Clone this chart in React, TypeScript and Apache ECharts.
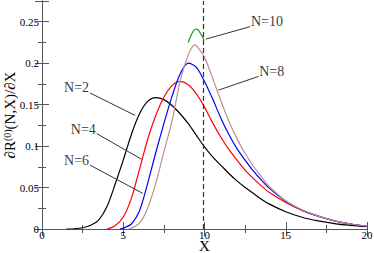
import React, { useEffect, useRef } from "react";
import * as echarts from "echarts";

// ---- data ----
const xN2 = [1.5, 2, 2.5, 3, 3.5, 4, 4.5, 5, 5.5, 6, 6.5, 7, 7.5, 8, 8.5, 9, 9.5, 10, 10.5, 11, 11.5, 12, 12.5, 13, 13.5, 14, 15, 16, 17, 18, 19, 20];
const yN2 = [0, 0.0003, 0.0015, 0.0045, 0.011, 0.027, 0.054, 0.083, 0.114, 0.139, 0.154, 0.1585, 0.156, 0.149, 0.139, 0.127, 0.113, 0.099, 0.087, 0.077, 0.067, 0.058, 0.05, 0.043, 0.036, 0.03, 0.0208, 0.0142, 0.0097, 0.0065, 0.0043, 0.0027];

const xN4 = [4, 4.5, 5, 5.5, 6, 6.5, 7, 7.5, 8, 8.5, 9, 9.5, 10, 10.5, 11, 11.5, 12, 12.5, 13, 13.5, 14, 15, 16, 17, 18, 19, 20];
const yN4 = [0, 0.004, 0.0145, 0.037, 0.072, 0.108, 0.137, 0.159, 0.173, 0.178, 0.174, 0.163, 0.147, 0.128, 0.111, 0.096, 0.083, 0.071, 0.061, 0.052, 0.044, 0.032, 0.0225, 0.0155, 0.0098, 0.006, 0.0033];

const xN6 = [4.8, 5, 5.5, 6, 6.5, 7, 7.5, 8, 8.5, 9, 9.5, 10, 10.5, 11, 11.5, 12, 12.5, 13, 13.5, 14, 15, 16, 17, 18, 19, 20];
const yN6 = [0, 0.001, 0.006, 0.022, 0.055, 0.092, 0.127, 0.16, 0.187, 0.2, 0.195, 0.178, 0.157, 0.134, 0.114, 0.097, 0.083, 0.07, 0.059, 0.049, 0.0335, 0.0228, 0.0155, 0.0098, 0.006, 0.0033];

const xN8 = [5.3, 5.5, 6, 6.5, 7, 7.5, 8, 8.5, 9, 9.4, 9.5, 10, 10.5, 11, 11.5, 12, 12.5, 13, 13.5, 14, 15, 16, 17, 18, 19, 20];
const yN8 = [0, 0.001, 0.007, 0.025, 0.055, 0.093, 0.13, 0.178, 0.21, 0.222, 0.221, 0.207, 0.182, 0.155, 0.13, 0.109, 0.091, 0.076, 0.063, 0.051, 0.034, 0.023, 0.0155, 0.0098, 0.006, 0.0033];

const xN10 = [9.0, 9.2, 9.4, 9.55, 9.75, 9.97];
const yN10 = [0.225, 0.235, 0.2405, 0.241, 0.236, 0.228];

const dashedX = 9.9;

const xTicks = [0, 5, 10, 15, 20];
const yTicks = ["0", "0.05", "0.1", "0.15", "0.2", "0.25"];

const annotLabels = ["N=2", "N=4", "N=6", "N=8", "N=10"];
const annotTextX = [2.13, 2.54, 2.13, 14.14, 13.84];
const annotTextY = [0.171, 0.12, 0.083, 0.19, 0.25];
const arrowFromX = [2.96, 3.37, 2.96, 13.32, 12.8];
const arrowFromY = [0.164, 0.115, 0.077, 0.184, 0.244];
const arrowToX = [5.73, 6.14, 6.2, 10.86, 10.08];
const arrowToY = [0.137, 0.084, 0.043, 0.1675, 0.229];

const zip = (xs: number[], ys: number[]) => xs.map((x, i) => [x, ys[i]]);

const FONT = "'Liberation Serif', 'DejaVu Serif', serif";
const AXIS_COLOR = "#555";

export default function App() {
  const ref = useRef<HTMLDivElement>(null);
  useEffect(() => {
    if (!ref.current) return;
    const chart = echarts.init(ref.current, null, { renderer: "svg" });

    const baseX = {
      type: "value" as const,
      min: xTicks[0],
      max: xTicks[xTicks.length - 1],
      interval: 5,
      splitLine: { show: false },
      axisLine: { show: true, lineStyle: { color: AXIS_COLOR, width: 1 } },
      axisTick: { show: true, inside: true, length: 7, lineStyle: { color: AXIS_COLOR } },
      minorTick: { show: true, splitNumber: 2, length: 4, lineStyle: { color: AXIS_COLOR } },
    };
    const baseY = {
      type: "value" as const,
      min: 0,
      max: 0.275,
      interval: 0.05,
      splitLine: { show: false },
      axisLine: { show: true, lineStyle: { color: AXIS_COLOR, width: 1 } },
      axisTick: { show: true, inside: true, length: 7, lineStyle: { color: AXIS_COLOR } },
      minorTick: { show: true, splitNumber: 2, length: 4, lineStyle: { color: AXIS_COLOR } },
    };

    const curve = (name: string, data: number[][], color: string) => ({
      name,
      type: "line",
      data,
      showSymbol: false,
      symbol: "none",
      smooth: 0.3,
      lineStyle: { color, width: 1.2 },
      xAxisIndex: 0,
      yAxisIndex: 0,
      silent: true,
      z: 3,
    });

    chart.setOption({
      animation: false,
      grid: { left: 42, right: 7, top: 1, bottom: 24, containLabel: false, outerBoundsMode: "none" },
      xAxis: [
        {
          ...baseX,
          position: "bottom",
          name: "X",
          nameLocation: "middle",
          nameGap: 11,
          nameMoveOverlap: false,
          nameTextStyle: { fontFamily: FONT, fontSize: 15, lineHeight: 12, color: "#000", verticalAlign: "top" },
          axisLabel: {
            show: true,
            margin: 1,
            fontFamily: FONT,
            fontSize: 11,
            lineHeight: 9,
            color: "#000",
            formatter: (v: number) => (xTicks.includes(v) ? String(v) : ""),
          },
        },
        { ...baseX, position: "top", axisLabel: { show: false } },
      ],
      yAxis: [
        {
          ...baseY,
          position: "left",
          name: "{a|∂R}{s|(0)}{a|(N,X)/∂X}",
          nameLocation: "middle",
          nameGap: 24,
          nameRotate: 90,
          nameMoveOverlap: false,
          nameTextStyle: {
            fontFamily: FONT,
            color: "#000",
            rich: {
              a: { fontFamily: FONT, fontSize: 15, color: "#000" },
              s: { fontFamily: FONT, fontSize: 10, color: "#000", verticalAlign: "top", padding: [0, 0, 6, 0] },
            },
          },
          axisLabel: {
            show: true,
            margin: 3,
            showMaxLabel: false,
            fontFamily: FONT,
            fontSize: 11,
            color: "#000",
            formatter: (v: number) => {
              const i = Math.round(v / 0.05);
              return Math.abs(v - i * 0.05) < 1e-9 && i < yTicks.length ? yTicks[i] : "";
            },
          },
        },
        { ...baseY, position: "right", axisLabel: { show: false } },
      ],
      series: [
        curve("N=2", zip(xN2, yN2), "#000000"),
        curve("N=4", zip(xN4, yN4), "#ff0000"),
        curve("N=6", zip(xN6, yN6), "#0000ff"),
        curve("N=8", zip(xN8, yN8), "#bc8f8f"),
        curve("N=10", zip(xN10, yN10), "#1e9e1e"),
        {
          name: "annotations",
          type: "scatter",
          xAxisIndex: 0,
          yAxisIndex: 0,
          silent: true,
          symbolSize: 0,
          data: annotLabels.map((n, i) => ({ name: n, value: [annotTextX[i], annotTextY[i]] })),
          label: {
            show: true,
            position: "inside",
            formatter: (p: any) => p.name,
            fontFamily: FONT,
            fontSize: 14,
            color: "#000",
          },
          markLine: {
            silent: true,
            animation: false,
            symbol: ["none", "arrow"],
            symbolSize: [0, 6],
            label: { show: false },
            lineStyle: { color: "#333", width: 1, type: "solid" },
            data: annotLabels.map((_, i) => [
              { coord: [arrowFromX[i], arrowFromY[i]] },
              { coord: [arrowToX[i], arrowToY[i]] },
            ]),
          },
        },
        {
          name: "dashed",
          type: "line",
          data: [],
          xAxisIndex: 0,
          yAxisIndex: 0,
          silent: true,
          markLine: {
            silent: true,
            animation: false,
            symbol: ["none", "none"],
            label: { show: false },
            lineStyle: { color: "#333", width: 1.2, type: [5, 3] },
            data: [{ xAxis: dashedX }],
          },
        },
      ],
    });
    return () => chart.dispose();
  }, []);
  return (
    <div
      ref={ref}
      style={{ position: "fixed", left: 0, top: 0, width: 374, height: 253, background: "#fff" }}
    />
  );
}
